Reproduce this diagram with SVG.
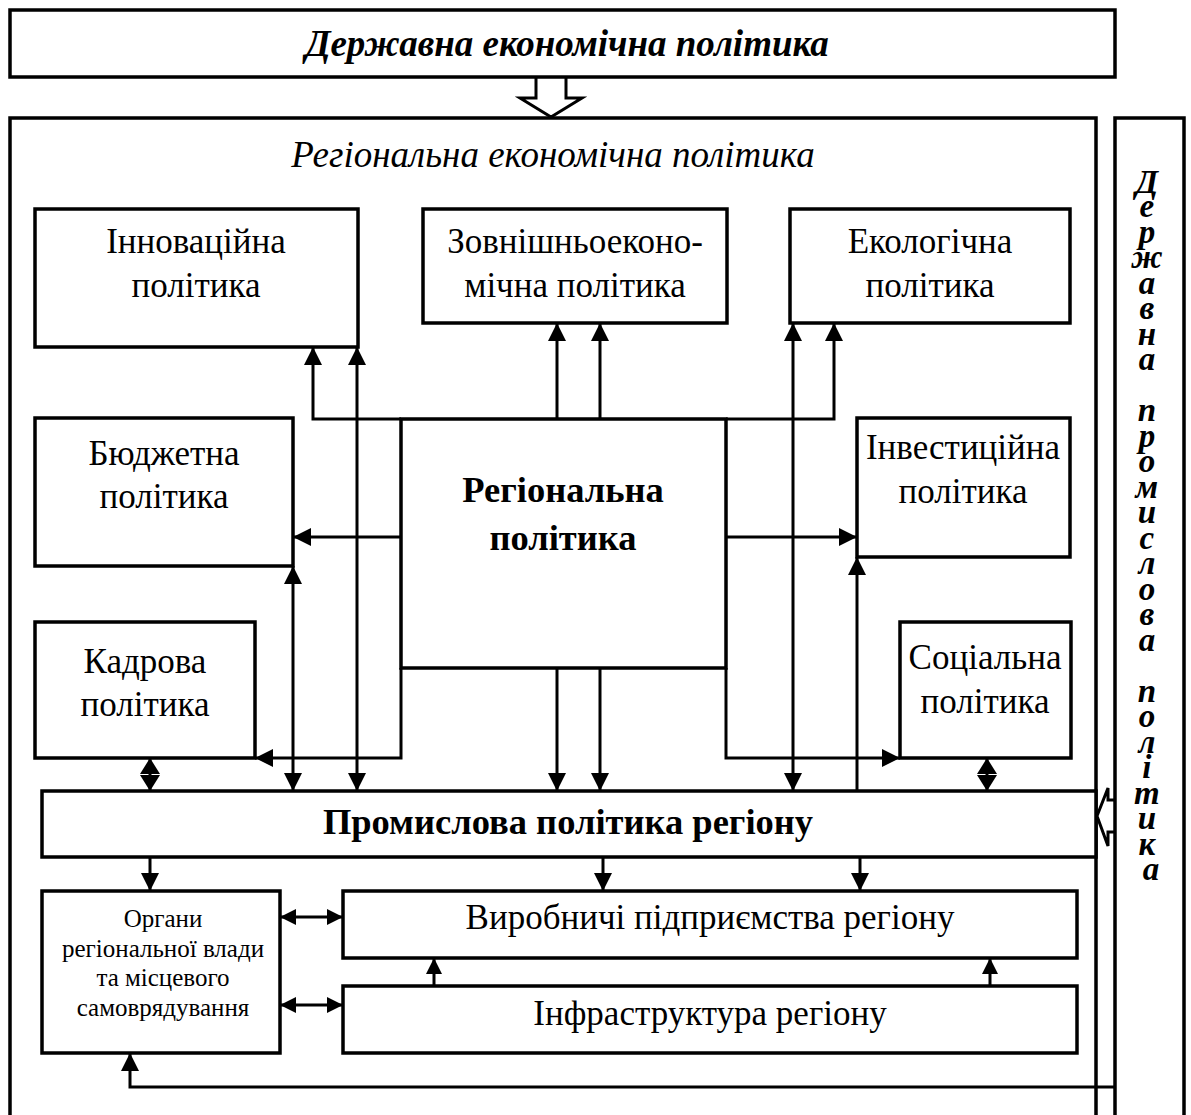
<svg xmlns="http://www.w3.org/2000/svg" width="1191" height="1115" viewBox="0 0 1191 1115">
  <style>
    .box { fill: #fff; stroke: #000; stroke-width: 3.5; }
    .frame { fill: none; stroke: #000; stroke-width: 3.5; }
    .ln { fill: none; stroke: #000; stroke-width: 3; }
    .t { font-family: "Liberation Serif", "Times New Roman", serif; font-size: 35px; text-anchor: middle; fill: #000; }
    .tb { font-family: "Liberation Serif", "Times New Roman", serif; font-size: 36.5px; font-weight: bold; text-anchor: middle; fill: #000; }
    .ti { font-family: "Liberation Serif", "Times New Roman", serif; font-size: 37px; font-style: italic; text-anchor: middle; fill: #000; }
    .tbi { font-family: "Liberation Serif", "Times New Roman", serif; font-size: 37px; font-style: italic; font-weight: bold; text-anchor: middle; fill: #000; }
    .ts { font-family: "Liberation Serif", "Times New Roman", serif; font-size: 25px; text-anchor: middle; fill: #000; }
    .tv { font-family: "Liberation Serif", "Times New Roman", serif; font-size: 33px; font-style: italic; font-weight: bold; text-anchor: middle; fill: #000; }
  </style>
  <defs>
    <marker id="ah" markerUnits="userSpaceOnUse" markerWidth="18" markerHeight="18" refX="18" refY="9" orient="auto-start-reverse">
      <path d="M0,0 L18,9 L0,18 z" fill="#000"/>
    </marker>
    <marker id="ahs" markerUnits="userSpaceOnUse" markerWidth="16" markerHeight="20" refX="16" refY="10" orient="auto-start-reverse">
      <path d="M0,0 L16,10 L0,20 z" fill="#000"/>
    </marker>
    <marker id="ahm" markerUnits="userSpaceOnUse" markerWidth="16" markerHeight="16" refX="16" refY="8" orient="auto-start-reverse">
      <path d="M0,0 L16,8 L0,16 z" fill="#000"/>
    </marker>
  </defs>

  <rect width="1191" height="1115" fill="#fff"/>

  <!-- state economic policy -->
  <g id="state-policy">
    <rect class="box" x="10" y="10" width="1105" height="67"/>
    <text class="tbi" x="567" y="56">Державна економічна політика</text>
  </g>

  <!-- regional economic policy frame (open at the bottom) -->
  <g id="regional-economic-policy">
    <path class="frame" d="M10,1125 V118 H1096 V1125"/>
    <text class="ti" x="553" y="167">Регіональна економічна політика</text>
  </g>

  <!-- state industrial policy column -->
  <g id="state-industrial-policy">
    <path class="frame" d="M1115,1125 V118 H1184 V1125"/>
    <text class="tv">
      <tspan x="1151" y="193">Д</tspan>
      <tspan x="1151" y="217">е</tspan>
      <tspan x="1151" y="243">р</tspan>
      <tspan x="1151" y="268">ж</tspan>
      <tspan x="1151" y="294">а</tspan>
      <tspan x="1151" y="319">в</tspan>
      <tspan x="1151" y="345">н</tspan>
      <tspan x="1151" y="370">а</tspan>
      <tspan x="1151" y="421">п</tspan>
      <tspan x="1151" y="447">р</tspan>
      <tspan x="1151" y="472">о</tspan>
      <tspan x="1151" y="498">м</tspan>
      <tspan x="1151" y="523">и</tspan>
      <tspan x="1151" y="549">с</tspan>
      <tspan x="1151" y="574">л</tspan>
      <tspan x="1151" y="600">о</tspan>
      <tspan x="1151" y="625">в</tspan>
      <tspan x="1151" y="651">а</tspan>
      <tspan x="1151" y="702">п</tspan>
      <tspan x="1151" y="727">о</tspan>
      <tspan x="1151" y="753">л</tspan>
      <tspan x="1151" y="778">і</tspan>
      <tspan x="1151" y="804">т</tspan>
      <tspan x="1151" y="829">и</tspan>
      <tspan x="1151" y="855">к</tspan>
      <tspan x="1151" y="880">а</tspan>
    </text>
  </g>

  <g id="innovation">
    <rect class="box" x="35" y="209" width="323" height="138"/>
    <text class="t" x="196" y="253">Інноваційна</text>
    <text class="t" x="196" y="297">політика</text>
  </g>

  <g id="foreign-economic">
    <rect class="box" x="423" y="209" width="304" height="114"/>
    <text class="t" x="575" y="253">Зовнішньоеконо-</text>
    <text class="t" x="575" y="297">мічна політика</text>
  </g>

  <g id="ecological">
    <rect class="box" x="790" y="209" width="280" height="114"/>
    <text class="t" x="930" y="253">Екологічна</text>
    <text class="t" x="930" y="297">політика</text>
  </g>

  <g id="budget">
    <rect class="box" x="35" y="418" width="258" height="148"/>
    <text class="t" x="164" y="465">Бюджетна</text>
    <text class="t" x="164" y="508">політика</text>
  </g>

  <g id="regional-policy">
    <rect class="box" x="401" y="419" width="325" height="249"/>
    <text class="tb" x="563" y="502">Регіональна</text>
    <text class="tb" x="563" y="550">політика</text>
  </g>

  <g id="investment">
    <rect class="box" x="857" y="418" width="213" height="139"/>
    <text class="t" x="963" y="459">Інвестиційна</text>
    <text class="t" x="963" y="503">політика</text>
  </g>

  <g id="personnel">
    <rect class="box" x="35" y="622" width="220" height="136"/>
    <text class="t" x="145" y="673">Кадрова</text>
    <text class="t" x="145" y="716">політика</text>
  </g>

  <g id="social">
    <rect class="box" x="900" y="622" width="171" height="136"/>
    <text class="t" x="985" y="669">Соціальна</text>
    <text class="t" x="985" y="713">політика</text>
  </g>

  <g id="industrial-policy">
    <rect class="box" x="42" y="791" width="1054" height="66"/>
    <text class="tb" x="568" y="834">Промислова політика регіону</text>
  </g>

  <g id="authorities">
    <rect class="box" x="42" y="891" width="238" height="162"/>
    <text class="ts" x="163" y="927">Органи</text>
    <text class="ts" x="163" y="957">регіональної влади</text>
    <text class="ts" x="163" y="986">та місцевого</text>
    <text class="ts" x="163" y="1016">самоврядування</text>
  </g>

  <g id="enterprises">
    <rect class="box" x="343" y="891" width="734" height="67"/>
    <text class="t" x="710" y="929">Виробничі підприємства регіону</text>
  </g>

  <g id="infrastructure">
    <rect class="box" x="343" y="986" width="734" height="67"/>
    <text class="t" x="710" y="1025">Інфраструктура регіону</text>
  </g>

  <!-- connectors -->
  <g id="connectors">
    <!-- wide hollow arrows -->
    <path class="ln" d="M536,78 V98 H520 L551,117 L582,98 H566 V78"/>
    <path class="ln" d="M1116,800 H1108 V788 L1097,816 L1108,846 V832 H1116"/>

    <!-- from regional policy upwards -->
    <path class="ln" d="M401,419 H313 V347" marker-end="url(#ah)"/>
    <path class="ln" d="M726,419 H834 V323" marker-end="url(#ah)"/>
    <line class="ln" x1="557" y1="419" x2="557" y2="323" marker-end="url(#ah)"/>
    <line class="ln" x1="600" y1="419" x2="600" y2="323" marker-end="url(#ah)"/>

    <!-- two-way links with industrial policy -->
    <line class="ln" x1="357" y1="791" x2="357" y2="347" marker-start="url(#ah)" marker-end="url(#ah)"/>
    <line class="ln" x1="793" y1="791" x2="793" y2="323" marker-start="url(#ah)" marker-end="url(#ah)"/>
    <line class="ln" x1="293" y1="791" x2="293" y2="566" marker-start="url(#ah)" marker-end="url(#ah)"/>
    <line class="ln" x1="857" y1="791" x2="857" y2="557" marker-end="url(#ah)"/>

    <!-- sideways from regional policy -->
    <line class="ln" x1="401" y1="537" x2="293" y2="537" marker-end="url(#ah)"/>
    <line class="ln" x1="726" y1="537" x2="857" y2="537" marker-end="url(#ah)"/>
    <path class="ln" d="M401,668 V758 H255" marker-end="url(#ah)"/>
    <path class="ln" d="M726,668 V758 H900" marker-end="url(#ah)"/>

    <!-- down to industrial policy -->
    <line class="ln" x1="557" y1="668" x2="557" y2="791" marker-end="url(#ah)"/>
    <line class="ln" x1="600" y1="668" x2="600" y2="791" marker-end="url(#ah)"/>

    <!-- short two-way links -->
    <line class="ln" x1="150" y1="758" x2="150" y2="791" marker-start="url(#ahs)" marker-end="url(#ahs)"/>
    <line class="ln" x1="987" y1="758" x2="987" y2="791" marker-start="url(#ahs)" marker-end="url(#ahs)"/>

    <!-- industrial policy down to the lower tier -->
    <line class="ln" x1="150" y1="857" x2="150" y2="891" marker-end="url(#ah)"/>
    <line class="ln" x1="603" y1="857" x2="603" y2="891" marker-end="url(#ah)"/>
    <line class="ln" x1="860" y1="857" x2="860" y2="891" marker-end="url(#ah)"/>

    <!-- authorities with enterprises and infrastructure -->
    <line class="ln" x1="280" y1="917" x2="343" y2="917" marker-start="url(#ahm)" marker-end="url(#ahm)"/>
    <line class="ln" x1="280" y1="1005" x2="343" y2="1005" marker-start="url(#ahm)" marker-end="url(#ahm)"/>

    <!-- infrastructure up to enterprises -->
    <line class="ln" x1="434" y1="986" x2="434" y2="958" marker-end="url(#ahm)"/>
    <line class="ln" x1="990" y1="986" x2="990" y2="958" marker-end="url(#ahm)"/>

    <!-- feedback from the state industrial policy -->
    <path class="ln" d="M1115,1087 H130 V1053" marker-end="url(#ah)"/>
  </g>
</svg>
